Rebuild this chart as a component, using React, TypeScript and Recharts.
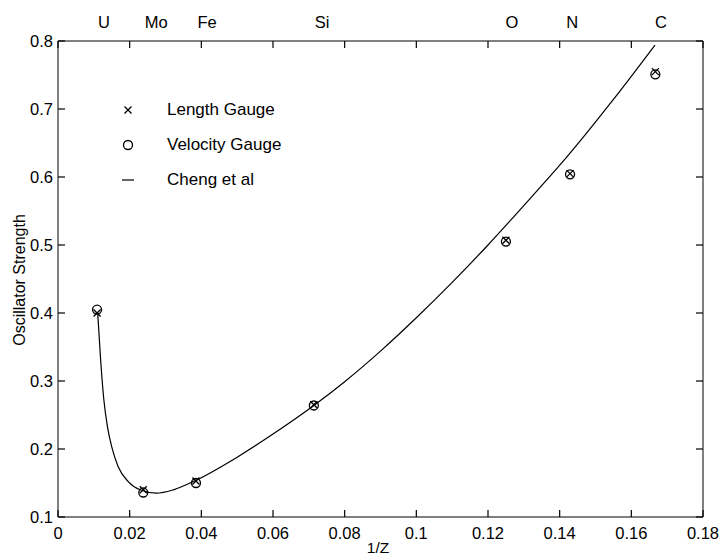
import { ComposedChart, Line, Scatter, XAxis, YAxis, ReferenceDot } from 'recharts';

// 1/Z positions and oscillator strengths
const gaugeX = [0.0109, 0.0238, 0.0385, 0.0714, 0.125, 0.1429, 0.1667];
const lengthGauge = [0.4, 0.14, 0.153, 0.265, 0.507, 0.605, 0.755];
const velocityGauge = [0.405, 0.136, 0.15, 0.264, 0.505, 0.604, 0.751];

// Cheng et al curve, sampled from the plotted line
const chengX = [0.0111, 0.0119, 0.0128, 0.0138, 0.015, 0.0168, 0.0196, 0.0229, 0.0275, 0.0322, 0.0385, 0.05, 0.06, 0.0714, 0.08, 0.09, 0.1, 0.11, 0.12, 0.13, 0.1429, 0.155, 0.1666];
const chengY = [0.398, 0.331, 0.272, 0.233, 0.203, 0.174, 0.152, 0.14, 0.135, 0.14, 0.154, 0.188, 0.222, 0.264, 0.299, 0.344, 0.393, 0.445, 0.5, 0.558, 0.635, 0.714, 0.794];

// element labels along the top
const elements = ['U', 'Mo', 'Fe', 'Si', 'O', 'N', 'C'];
const elementPos = [0.0128, 0.0274, 0.0416, 0.0737, 0.1267, 0.1435, 0.1683];

const xTicks = [0, 0.02, 0.04, 0.06, 0.08, 0.1, 0.12, 0.14, 0.16, 0.18];
const yTicks = [0.1, 0.2, 0.3, 0.4, 0.5, 0.6, 0.7, 0.8];

const lengthData = gaugeX.map((x, i) => ({ x, y: lengthGauge[i] }));
const velocityData = gaugeX.map((x, i) => ({ x, y: velocityGauge[i] }));
const chengData = chengX.map((x, i) => ({ x, y: chengY[i] }));
const frameData = xTicks.map((x) => ({ x, y: 0.8 }));

const FONT = '"Liberation Sans", Arial, Helvetica, sans-serif';
const FS = 16.5;
const W = 721;
const H = 555;
const TOP = 41;
const BOTTOM = 517;
const LEFT = 58;
const RIGHT = 703;

const XMark = ({ cx, cy }: any) => (
  <path d={`M${cx - 3.5},${cy - 3.5}L${cx + 3.5},${cy + 3.5}M${cx - 3.5},${cy + 3.5}L${cx + 3.5},${cy - 3.5}`} stroke="#000" strokeWidth={1.3} fill="none" />
);

const OMark = ({ cx, cy }: any) => (
  <circle cx={cx} cy={cy} r={4.5} stroke="#000" strokeWidth={1.3} fill="none" />
);

const bottomTick = ({ x, payload }: any) => (
  <text x={x} y={533} textAnchor="middle" dominantBaseline="central" fontSize={FS} fontFamily={FONT} fill="#000">
    {String(payload.value)}
  </text>
);

const leftTick = ({ y, payload }: any) => (
  <text x={53} y={y} textAnchor="end" dominantBaseline="central" fontSize={FS} fontFamily={FONT} fill="#000">
    {String(payload.value)}
  </text>
);

const noTick = () => <g />;

const legendItems = [
  { name: 'Length Gauge', icon: 'x' },
  { name: 'Velocity Gauge', icon: 'o' },
  { name: 'Cheng et al', icon: 'line' },
];

const LegendBox = () => (
  <div style={{ position: 'absolute', left: 118, top: 92, fontFamily: FONT, fontSize: 17, color: '#000' }}>
    {legendItems.map((item) => (
      <div key={item.name} style={{ height: 35, display: 'flex', alignItems: 'center' }}>
        <svg width={20} height={20} style={{ display: 'block' }}>
          {item.icon === 'x' && <XMark cx={10} cy={10} />}
          {item.icon === 'o' && <OMark cx={10} cy={10} />}
          {item.icon === 'line' && <line x1={4} y1={10} x2={16} y2={10} stroke="#000" strokeWidth={1.2} />}
        </svg>
        <span style={{ marginLeft: 29 }}>{item.name}</span>
      </div>
    ))}
  </div>
);

const axisLine = { stroke: '#000' };
const tickLine = { stroke: '#000', strokeWidth: 1.2 };

export default function App() {
  return (
    <div style={{ position: 'absolute', left: 0, top: 0, width: W, height: H, background: '#fff', overflow: 'hidden' }}>
      <ComposedChart width={W} height={H} margin={{ top: 0, right: 0, bottom: 0, left: 0 }}>
        <XAxis
          xAxisId="top"
          orientation="top"
          type="number"
          dataKey="x"
          domain={[0, 0.18]}
          ticks={xTicks}
          interval={0}
          height={TOP}
          axisLine={axisLine}
          tickLine={tickLine}
          tickSize={-7}
          tick={noTick}
        />
        <XAxis
          type="number"
          dataKey="x"
          domain={[0, 0.18]}
          ticks={xTicks}
          interval={0}
          height={H - BOTTOM}
          axisLine={axisLine}
          tickLine={tickLine}
          tickSize={-7}
          tick={bottomTick}
        />
        <YAxis
          type="number"
          dataKey="y"
          domain={[0.1, 0.8]}
          ticks={yTicks}
          interval={0}
          width={LEFT}
          axisLine={axisLine}
          tickLine={tickLine}
          tickSize={-7}
          tick={leftTick}
        />
        <YAxis
          yAxisId="right"
          orientation="right"
          type="number"
          dataKey="y"
          domain={[0.1, 0.8]}
          ticks={yTicks}
          interval={0}
          width={W - RIGHT}
          axisLine={axisLine}
          tickLine={tickLine}
          tickSize={-7}
          tick={noTick}
        />
        {/* invisible series so the top and right frame axes get their ticks */}
        <Scatter
          xAxisId="top"
          yAxisId="right"
          data={frameData}
          dataKey="y"
          legendType="none"
          shape={noTick}
          isAnimationActive={false}
        />
        <Line
          data={chengData}
          dataKey="y"
          name="Cheng et al"
          type="monotone"
          stroke="#000"
          strokeWidth={1.2}
          dot={false}
          isAnimationActive={false}
        />
        <Scatter
          data={lengthData}
          dataKey="y"
          name="Length Gauge"
          shape={(p: any) => <XMark cx={p.cx} cy={p.cy} />}
          isAnimationActive={false}
        />
        <Scatter
          data={velocityData}
          dataKey="y"
          name="Velocity Gauge"
          shape={(p: any) => <OMark cx={p.cx} cy={p.cy} />}
          isAnimationActive={false}
        />
        {elements.map((el, i) => (
          <ReferenceDot
            key={el}
            x={elementPos[i]}
            y={0.8}
            r={0}
            ifOverflow="visible"
            stroke="none"
            fill="none"
            label={{ value: el, position: 'top', offset: 13, fill: '#000', fontSize: FS, fontFamily: FONT }}
          />
        ))}
      </ComposedChart>
      <LegendBox />
      <div
        style={{
          position: 'absolute',
          left: 20,
          top: 280,
          transform: 'translate(-50%, -50%) rotate(-90deg)',
          fontFamily: FONT,
          fontSize: 16,
          lineHeight: '16px',
          whiteSpace: 'nowrap',
        }}
      >
        Oscillator Strength
      </div>
      <div
        style={{
          position: 'absolute',
          left: 378,
          top: 547,
          transform: 'translate(-50%, -50%)',
          fontFamily: FONT,
          fontSize: 15.5,
          lineHeight: '15px',
        }}
      >
        1/Z
      </div>
    </div>
  );
}
